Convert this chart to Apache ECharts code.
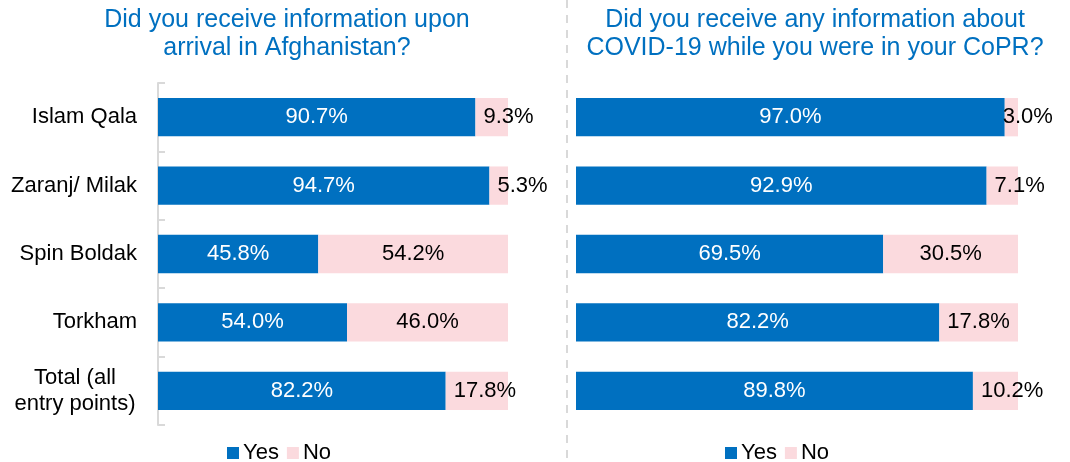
<!DOCTYPE html>
<html>
<head>
<meta charset="utf-8">
<script src="https://cdn.jsdelivr.net/npm/echarts@6/dist/echarts.min.js"></script>
<style>
  html, body { margin: 0; padding: 0; background: #fff; }
  #chart { width: 1070px; height: 462px; }
</style>
</head>
<body>
<div id="chart"></div>
<script>
const categories = ['Islam Qala', 'Zaranj/ Milak', 'Spin Boldak', 'Torkham', 'Total (all\nentry points)'];
const arrivalYes = [90.7, 94.7, 45.8, 54.0, 82.2];
const arrivalNo = [9.3, 5.3, 54.2, 46.0, 17.8];
const covidYes = [97.0, 92.9, 69.5, 82.2, 89.8];
const covidNo = [3.0, 7.1, 30.5, 17.8, 10.2];

const FONT = "'Liberation Sans', Arial, sans-serif";
const BLUE = '#0070C0';
const PINK = '#FBDADE';

let chart = echarts.init(document.getElementById('chart'));

const fmt = (p) => p.value.toFixed(1) + '%';

// small "No" slices: label starts near the segment's left edge, like the original
const noData = (arr) => arr.map((v) => v < 20
  ? { value: v, label: { position: 'insideLeft', distance: v < 5 ? -2 : 8 } }
  : v);

const yesSeries = (data, idx) => ({
  name: 'Yes',
  type: 'bar',
  stack: 's' + idx,
  xAxisIndex: idx,
  yAxisIndex: idx,
  barWidth: '56%',
  itemStyle: { color: BLUE },
  label: { show: true, position: 'inside', color: '#fff', fontSize: 22, fontFamily: FONT, formatter: fmt },
  data: data,
});

const noSeries = (data, idx) => ({
  name: 'No',
  type: 'bar',
  stack: 's' + idx,
  xAxisIndex: idx,
  yAxisIndex: idx,
  barWidth: '56%',
  itemStyle: { color: PINK },
  label: { show: true, position: 'inside', color: '#000', fontSize: 22, fontFamily: FONT, formatter: fmt },
  data: noData(data),
});

const legendBase = {
  top: 442,
  padding: 0,
  itemWidth: 12,
  itemHeight: 12,
  itemGap: 8,
  icon: 'rect',
  textStyle: { fontSize: 22, fontFamily: FONT, color: '#000', padding: [0, 0, 0, -1] },
  data: ['Yes', 'No'],
};

chart.setOption({
  animation: false,
  graphic: [
    {
      type: 'text', x: 287, y: 6,
      style: {
        text: 'Did you receive information upon\narrival in Afghanistan?',
        textAlign: 'center', fill: BLUE, fontSize: 25, fontFamily: FONT, lineHeight: 28,
      },
    },
    {
      type: 'text', x: 815, y: 6,
      style: {
        text: 'Did you receive any information about\nCOVID-19 while you were in your CoPR?',
        textAlign: 'center', fill: BLUE, fontSize: 25, fontFamily: FONT, lineHeight: 28,
      },
    },
    {
      type: 'line',
      shape: { x1: 567, y1: 0, x2: 567, y2: 462 },
      style: { stroke: '#D9D9D9', lineWidth: 2, lineDash: [8, 7] },
    },
  ],
  legend: [
    Object.assign({ left: 227 }, legendBase),
    Object.assign({ left: 725 }, legendBase),
  ],
  grid: [
    { left: 158, width: 350, top: 83, height: 342 },
    { left: 576, width: 442, top: 83, height: 342 },
  ],
  xAxis: [
    { type: 'value', gridIndex: 0, min: 0, max: 100, show: false },
    { type: 'value', gridIndex: 1, min: 0, max: 100, show: false },
  ],
  yAxis: [
    {
      type: 'category',
      gridIndex: 0,
      inverse: true,
      data: categories,
      axisLine: { show: true, lineStyle: { color: '#D9D9D9', width: 2 } },
      axisTick: { show: true, inside: true, alignWithLabel: false, length: 7, lineStyle: { color: '#D9D9D9', width: 2 } },
      axisLabel: {
        margin: 21,
        fontSize: 22,
        fontFamily: FONT,
        color: '#000',
        lineHeight: 26,
        formatter: (v) => v.includes('\n')
          ? v.split('\n').map((s) => '{c|' + s + '}').join('\n')
          : v,
        rich: { c: { width: 124, align: 'center', fontSize: 22, fontFamily: FONT, color: '#000', lineHeight: 26 } },
      },
    },
    {
      type: 'category',
      gridIndex: 1,
      inverse: true,
      data: categories,
      axisLine: { show: false },
      axisTick: { show: false },
      axisLabel: { show: false },
    },
  ],
  series: [
    yesSeries(arrivalYes, 0),
    noSeries(arrivalNo, 0),
    yesSeries(covidYes, 1),
    noSeries(covidNo, 1),
  ],
});
</script>
</body>
</html>
